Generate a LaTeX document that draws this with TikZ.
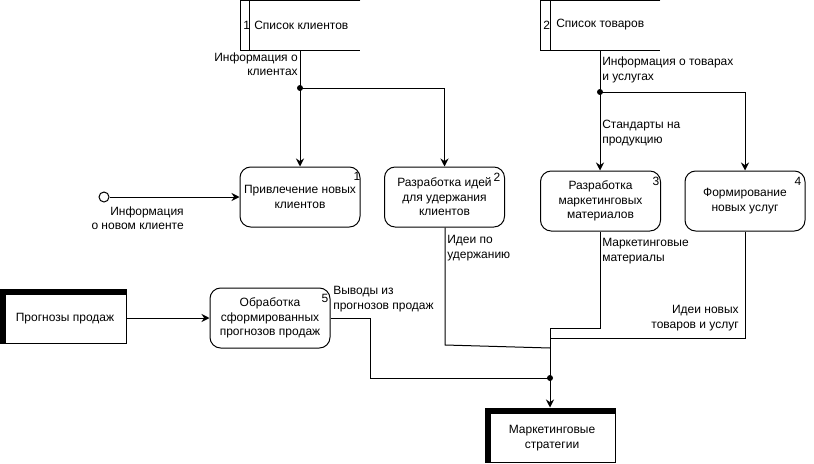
\documentclass[tikz,border=0pt]{standalone}
\usepackage{fontspec}
\setmainfont{Liberation Sans}
\usetikzlibrary{arrows.meta}
\begin{document}
\begin{tikzpicture}[x=0.75pt,y=-0.75pt,
  every node/.style={font=\fontsize{9}{10.8}\selectfont},
  proc/.style={draw, line width=0.75pt, rounded corners=8pt, minimum width=90pt, minimum height=45pt, align=center, inner sep=0pt},
  ext/.style={draw, line width=0.75pt, align=center, inner sep=0pt},
  store/.style={inner sep=0pt, minimum height=36.75pt, minimum width=89.25pt},
  lbl/.style={inner sep=0pt, align=left},
  lblr/.style={inner sep=0pt, align=right},
  num/.style={inner sep=0pt},
  line/.style={line width=0.75pt},
  arr/.style={line width=0.75pt, -{Stealth[length=6pt,width=6pt]}},
]
\useasboundingbox (0,0) rectangle (814,464);

% data stores
\node[store] (ds1) at (300.5,25.5) {};
\draw[line] (ds1.north east) -- (ds1.north west) -- (ds1.south west) -- (ds1.south east);
\draw[line] ([xshift=6.75pt]ds1.north west) -- ([xshift=6.75pt]ds1.south west);
\node[num, anchor=west] (ds1n) at (243,25) {1};
\node[lbl, anchor=west] (ds1t) at (254,25) {Список клиентов};

\node[store] (ds2) at (600.5,25.5) {};
\draw[line] (ds2.north east) -- (ds2.north west) -- (ds2.south west) -- (ds2.south east);
\draw[line] ([xshift=7.5pt]ds2.north west) -- ([xshift=7.5pt]ds2.south west);
\node[num, anchor=west] (ds2n) at (543,25) {2};
\node[lbl, anchor=west] (ds2t) at (556,25) {Список товаров};

% processes
\node[proc] (b1) at (300,197) {Привлечение новых\\клиентов};
\node[proc] (b2) at (444.5,197) {Разработка идей\\для удержания\\клиентов};
\node[proc] (b3) at (600.5,201) {Разработка\\маркетинговых\\материалов};
\node[proc] (b4) at (745,201) {Формирование\\новых услуг};
\node[proc] (b5) at (270,318) {Обработка\\сформированных\\прогнозов продаж};

\node[num] (n1) at (357,176) {1};
\node[num] (n2) at (497,177) {2};
\node[num] (n3) at (656,181) {3};
\node[num] (n4) at (798,181) {4};
\node[num] (n5) at (325,298) {5};

% external entities
\node[ext, minimum width=94.5pt, minimum height=40.5pt] (pr) at (63,316) {};
\fill (pr.north west) rectangle ([yshift=-4.5pt]pr.north east);
\fill (pr.north west) rectangle ([xshift=4.5pt]pr.south west);
\node[inner sep=0pt] (prt) at (65,319) {Прогнозы продаж};

\node[ext, minimum width=97.5pt, minimum height=40.5pt] (st) at (550,435) {};
\fill (st.north west) rectangle ([yshift=-4.5pt]st.north east);
\fill (st.north west) rectangle ([xshift=4.5pt]st.south west);
\node[inner sep=0pt, align=center] (stt) at (552,438) {Маркетинговые\\стратегии};

% source
\node[circle, draw, line width=0.75pt, fill=white, minimum size=7.5pt, inner sep=0pt] (src) at (104,197) {};

% junctions
\coordinate (j1) at (300,88);
\coordinate (j2) at (600,92);
\coordinate (j3) at (550,378);
\coordinate (m2) at (445,345);
\coordinate (m3) at (600,328);
\coordinate (m4) at (745,338);
\coordinate (m5) at (370,318);

\draw[line] (ds1.south -| j1) -- (j1);
\draw[arr] (j1) -- (j1 |- b1.north);
\draw[arr] (j1) -| (b2.north);
\draw[line] (ds2.south -| j2) -- (j2);
\draw[arr] (j2) -- (j2 |- b3.north);
\draw[arr] (j2) -| (b4.north);
\draw[arr] (src.east) -- (src.east -| b1.west);
\draw[arr] (pr.east |- b5.west) -- (b5.west);

\draw[line] (b5.east) -- (m5) |- (j3);
\draw[line] (b2.south -| m2) -- (m2) -- (550,348);
\draw[line] (b3.south -| m3) -- (m3) -| (j3);
\draw[line] (b4.south) -- (m4) -- (m4 -| j3);
\draw[arr] (j3) -- (j3 |- st.north);

\fill (j1) circle (2.25pt);
\fill (j2) circle (2.25pt);
\fill (j3) circle (2.25pt);

% labels
\node[lblr, anchor=east] (l1) at (298,64) {Информация о\\клиентах};
\node[lbl, anchor=west] (l2) at (602,70) {Информация о товарах\\и услугах};
\node[lbl, anchor=west] (l3) at (602,133) {Стандарты на\\продукцию};
\node[lblr, anchor=east] (l4) at (184,218) {Информация\\о новом клиенте};
\node[lbl, anchor=west] (l5) at (447,248) {Идеи по\\удержанию};
\node[lbl, anchor=west] (l6) at (602,251) {Маркетинговые\\материалы};
\node[lblr, anchor=east] (l7) at (739,318) {Идеи новых\\товаров и услуг};
\node[lbl, anchor=west] (l8) at (333,299) {Выводы из\\прогнозов продаж};
\end{tikzpicture}
\end{document}
